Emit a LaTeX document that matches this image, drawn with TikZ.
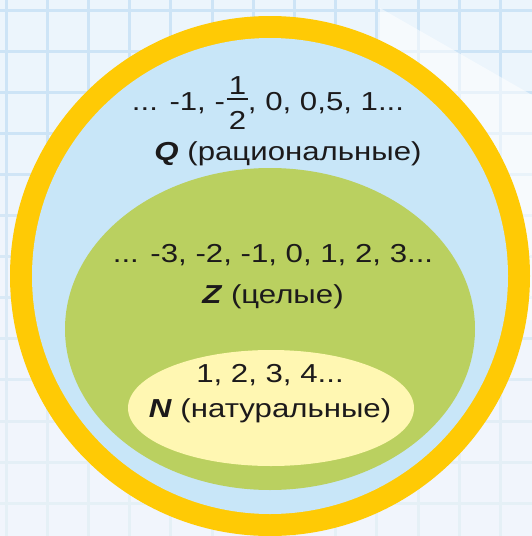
\documentclass[tikz,border=0pt]{standalone}
\usepackage{fontspec}
\setmainfont[FakeStretch=1.2]{Liberation Sans}
\definecolor{ringyellow}{RGB}{255,202,5}
\definecolor{qblue}{RGB}{200,230,248}
\definecolor{zgreen}{RGB}{186,208,96}
\definecolor{npale}{RGB}{255,247,178}
\definecolor{gridblue}{RGB}{205,228,246}
\definecolor{bgblue}{RGB}{236,245,252}
\definecolor{inkdark}{RGB}{28,26,27}
\newcommand{\myhalf}{\kern2pt\rlap{\raisebox{16pt}{\makebox[21pt]{1}}}\rlap{\raisebox{10pt}{\rule{21pt}{1.8pt}}}\raisebox{-19pt}{\makebox[21pt]{2}}}
\tikzset{
  gridline/.style={draw=gridblue, line width=3pt},
  settext/.style={inner sep=0pt, anchor=base, text=inkdark, font=\fontsize{26}{31}\selectfont}
}
\begin{document}
\begin{tikzpicture}[x=1pt, y=-1pt]
\useasboundingbox (0,0) rectangle (532,536);
% background
\fill[bgblue] (0,0) rectangle (532,536);
\foreach \i in {0,...,12} {
  \draw[gridline] ({6+41.2*\i},0) -- ({6+41.2*\i},536);
  \draw[gridline] (0,{10+41.1*\i}) -- (532,{10+41.1*\i});
}
\foreach \k in {1,...,12} {
  \fill[white, opacity=0.065] (0,{120+30*\k}) rectangle (532,536);
}
\fill[white, opacity=0.55] (380,8) -- (532,95) -- (532,320) -- (380,320) -- cycle;
% sets
\fill[ringyellow] (270,276) circle[radius=260];
\fill[qblue] (270,276) circle[radius=238];
\fill[zgreen] (270,329) ellipse[x radius=205, y radius=161];
\fill[npale] (271,408) ellipse[x radius=143, y radius=58];
% texts
\node[settext] (q1) at (268,110) {... -1, -\myhalf, 0, 0,5, 1...};
\node[settext] (q2) at (288,160) {\textbf{\textit{Q}} (рациональные)};
\node[settext] (z1) at (273,262) {... -3, -2, -1, 0, 1, 2, 3...};
\node[settext] (z2) at (273,303) {\textbf{\textit{Z}} (целые)};
\node[settext] (n1) at (270,382) {1, 2, 3, 4...};
\node[settext] (n2) at (270,417) {\textbf{\textit{N}} (натуральные)};
\end{tikzpicture}
\end{document}
